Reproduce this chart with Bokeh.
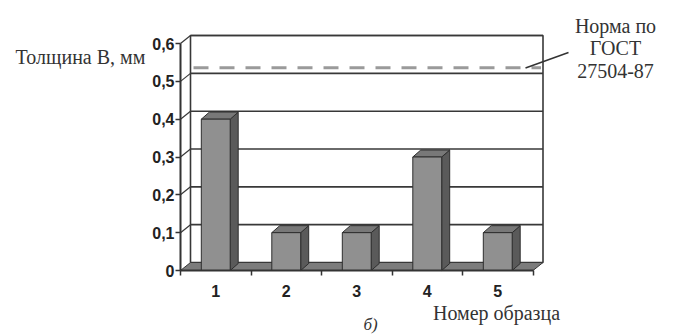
from bokeh.plotting import figure
from bokeh.models import Range1d, FixedTicker, CustomJSTickFormatter, Label
from bokeh.embed import file_html
from bokeh.resources import INLINE

# ---- data ----
samples = [1, 2, 3, 4, 5]
thickness = [0.4, 0.1, 0.1, 0.3, 0.1]
norm_value = 0.515
y_ticks = [0, 0.1, 0.2, 0.3, 0.4, 0.5, 0.6]
y_label = "Толщина В, мм"
x_label = "Номер образца"
norm_label = ["Норма по", "ГОСТ", "27504-87"]
caption = "б)"

# ---- layout constants (pixels) ----
W, H = 676, 334
X0_PX, Y0_PX = 180, 270   # where (0.5, 0) sits on the canvas
PX_X = 70.5               # px per category unit
PX_Y = 378.3              # px per mm
xa = samples[0] - 0.5
xb = samples[-1] + 0.5
ymax = y_ticks[-1]


def dx(px):
    return px / PX_X


def dy(px):
    return px / PX_Y


def fx(px):  # canvas pixel x -> data x
    return xa + (px - X0_PX) / PX_X


def fy(py):  # canvas pixel y (from top) -> data y
    return (Y0_PX - py) / PX_Y


DX, DY = dx(10), dy(8)          # depth of the chart box
BDX, BDY = dx(8), dy(7)         # depth of each bar
BW = 0.41

p = figure(width=W, height=H, output_backend="svg", toolbar_location=None,
           x_range=Range1d(fx(0), fx(W)), y_range=Range1d(fy(H), fy(0)),
           min_border=0, min_border_left=0, min_border_right=0,
           min_border_top=0, min_border_bottom=0)
p.grid.visible = False
p.outline_line_color = None
p.background_fill_color = "white"

EDGE = "#383838"

# back wall
p.quad(left=xa + DX, right=xb + DX, bottom=DY, top=ymax + DY,
       fill_color="white", line_color=EDGE, line_width=1.6)
inner = y_ticks[1:]
p.segment(x0=[xa + DX] * len(inner), y0=[v + DY for v in inner],
          x1=[xb + DX] * len(inner), y1=[v + DY for v in inner],
          line_color=EDGE, line_width=1.6)
p.segment(x0=[xa] * len(inner), y0=inner,
          x1=[xa + DX] * len(inner), y1=[v + DY for v in inner],
          line_color=EDGE, line_width=1.2)

# norm dashed line
p.line(x=[xa + DX + dx(3), xb + DX - dx(2)], y=[norm_value + DY] * 2,
       line_color="#9a9a9a", line_width=3, line_dash="15 11")
p.line(x=[fx(525), fx(568)], y=[fy(67.5), fy(52)], line_color="#333333", line_width=1.5)

# floor
p.patch(x=[xa, xb, xb + DX, xa + DX], y=[0, 0, DY, DY],
        fill_color="#7c7c7c", line_color=EDGE, line_width=1)

# bars
side_xs = [[x + BW / 2, x + BW / 2 + BDX, x + BW / 2 + BDX, x + BW / 2] for x in samples]
side_ys = [[0, BDY, t + BDY, t] for t in thickness]
top_xs = [[x - BW / 2, x + BW / 2, x + BW / 2 + BDX, x - BW / 2 + BDX] for x in samples]
top_ys = [[t, t, t + BDY, t + BDY] for t in thickness]
p.patches(xs=side_xs, ys=side_ys, fill_color="#5a5a5a", line_color="#2e2e2e", line_width=1)
p.patches(xs=top_xs, ys=top_ys, fill_color="#787878", line_color="#2e2e2e", line_width=1)
p.vbar(x=samples, top=thickness, bottom=0, width=BW,
       fill_color="#909090", line_color="#2e2e2e", line_width=1)

# axes, pinned inside the frame
ya = p.yaxis[0]
ya.fixed_location = xa
ya.bounds = (0, ymax)
ya.ticker = FixedTicker(ticks=y_ticks)
ya.formatter = CustomJSTickFormatter(
    code="return tick == 0 ? '0' : tick.toFixed(1).replace('.', ',');")
ya.axis_line_color = "#333333"
ya.axis_line_width = 2
ya.major_tick_in = 0
ya.major_tick_out = 5
ya.major_tick_line_color = "#333333"
ya.major_tick_line_width = 1.5
ya.minor_tick_line_color = None
ya.major_label_standoff = 1
ya.major_label_text_font = "Liberation Sans"
ya.major_label_text_font_style = "bold"
ya.major_label_text_font_size = "16px"
ya.major_label_text_color = "#222222"

xax = p.xaxis[0]
xax.fixed_location = 0
xax.bounds = (xa, xb)
xax.ticker = FixedTicker(ticks=samples, minor_ticks=[s - 0.5 for s in samples] + [xb])
xax.axis_line_color = "#333333"
xax.axis_line_width = 2
xax.major_tick_in = 0
xax.major_tick_out = 0
xax.minor_tick_in = 0
xax.minor_tick_out = 5
xax.minor_tick_line_color = "#333333"
xax.minor_tick_line_width = 1.5
xax.major_label_standoff = 9
xax.major_label_text_font = "Liberation Sans"
xax.major_label_text_font_style = "bold"
xax.major_label_text_font_size = "16px"
xax.major_label_text_color = "#222222"

# texts
SERIF = "Liberation Serif"


def add_text(txt, px, py, size, style="normal"):
    p.add_layout(Label(x=fx(px), y=fy(py), text=txt, text_font=SERIF,
                       text_font_size=size, text_font_style=style,
                       text_align="center", text_baseline="middle",
                       text_color="#333333"))


add_text(y_label, 80, 56, "20px")
add_text(x_label, 496, 312, "20px")
add_text(caption, 370, 324, "17px", "italic")
for i, line in enumerate(norm_label):
    add_text(line, 615, 25 + 22.5 * i, "20px")

open("out.html", "w").write(file_html(p, INLINE))
